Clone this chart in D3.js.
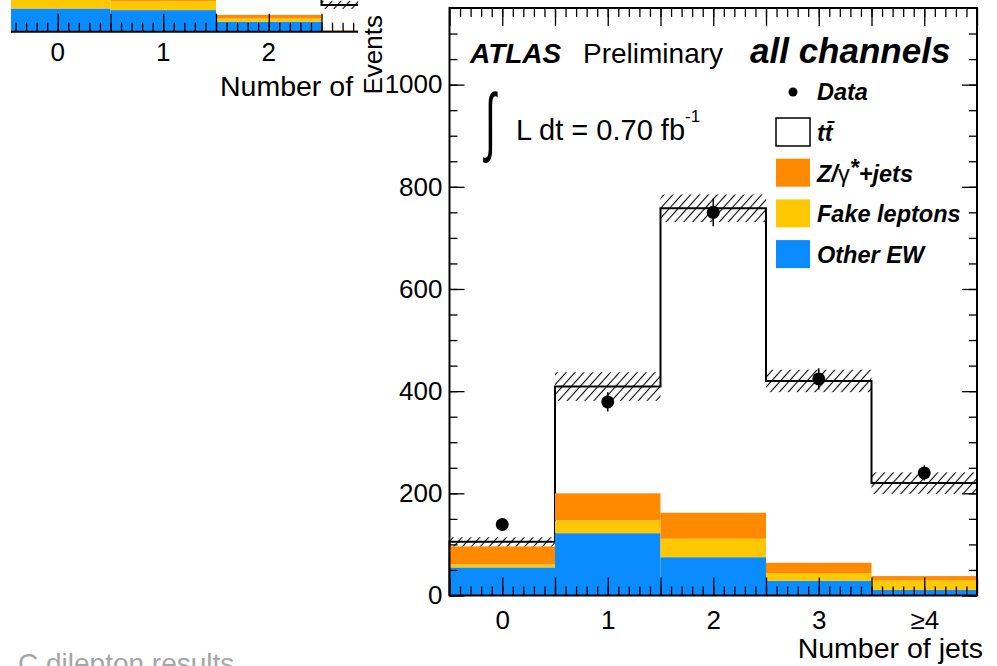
<!DOCTYPE html>
<html>
<head>
<meta charset="utf-8">
<script src="https://cdn.jsdelivr.net/npm/d3@7"></script>
<style>
  body { margin: 0; background: #fff; }
  svg { display: block; }
  text { font-family: "Liberation Sans", Arial, Helvetica, sans-serif; fill: #000; }
</style>
</head>
<body>
<svg id="chart" width="997" height="666"></svg>
<script>
// ---- main panel (all channels) ----
const jetLabels = ["0", "1", "2", "3", "\u22654"];
const otherEW = [55, 122, 75, 29, 11];
const fakeLeptons = [6, 25, 36, 14, 19];
const zJets = [35, 53, 51, 21, 8];
const ttbar = [9, 209, 596, 356, 182];
const dataEvents = [139, 379, 750, 424, 240];
const dataErrors = [12, 19, 27, 21, 15];
const mcUncert = [9, 28, 27, 22, 21];
const yTicks = [0, 200, 400, 600, 800, 1000];

// ---- partly hidden panel at top left (only its bottom is visible) ----
const leftLabels = ["0", "1", "2", "3"];
const leftOtherEW = [58, 54, 25, 1];
const leftFake = [30, 23, 8, 2];
const leftZJets = [25, 18, 9, 1];
const leftTtbar = [60, 80, 90, 63];
const leftUncert = [10, 10, 10, 10];

const colors = {other: "#0a8cff", fake: "#ffc800", z: "#ff8a00"};

const svg = d3.select("#chart");
const defs = svg.append("defs");
defs.append("pattern")
    .attr("id", "hatch")
    .attr("patternUnits", "userSpaceOnUse")
    .attr("width", 6.6).attr("height", 6.6)
    .attr("patternTransform", "rotate(42)")
  .append("line")
    .attr("x1", 3.3).attr("y1", 0).attr("x2", 3.3).attr("y2", 6.6)
    .attr("stroke", "#000").attr("stroke-width", 1.1);

function stackRows(other, fake, z) {
    return other.map((d, i) => ({bin: i, other: other[i], fake: fake[i], z: z[i]}));
}

function drawHist(g, x, y, other, fake, z, tt, unc) {
    const rows = stackRows(other, fake, z);
    const series = d3.stack().keys(["other", "fake", "z"])(rows);
    const totals = rows.map((r, i) => r.other + r.fake + r.z + tt[i]);
    const nb = rows.length;

    // ttbar on top of the stack: white fill, black step outline
    const pts = [[x(-0.5), y(0)]];
    totals.forEach((t, i) => { pts.push([x(i - 0.5), y(t)]); pts.push([x(i + 0.5), y(t)]); });
    pts.push([x(nb - 0.5), y(0)]);
    g.append("path")
        .attr("d", d3.line()(pts))
        .attr("fill", "#fff")
        .attr("stroke", "#000")
        .attr("stroke-width", 2);

    // coloured backgrounds
    g.selectAll("g.layer")
        .data(series)
        .join("g")
        .attr("class", "layer")
        .attr("fill", d => colors[d.key])
        .selectAll("rect")
        .data(d => d)
        .join("rect")
        .attr("x", (d, i) => x(i - 0.5))
        .attr("width", (d, i) => x(i + 0.5) - x(i - 0.5))
        .attr("y", d => y(d[1]))
        .attr("height", d => y(d[0]) - y(d[1]));

    // hatched uncertainty band
    g.selectAll("rect.band")
        .data(totals)
        .join("rect")
        .attr("class", "band")
        .attr("x", (d, i) => x(i - 0.5))
        .attr("width", (d, i) => x(i + 0.5) - x(i - 0.5))
        .attr("y", (d, i) => y(d + unc[i]))
        .attr("height", (d, i) => y(d - unc[i]) - y(d + unc[i]))
        .attr("fill", "url(#hatch)");
    return totals;
}

function styleTicks(sel, width) {
    sel.select(".domain").remove();
    sel.attr("font-size", null).attr("font-family", null);
    sel.selectAll(".tick line").attr("stroke", "#000").attr("stroke-width", width);
}

// ================= left (cropped) panel =================
defs.append("clipPath").attr("id", "leftClip")
  .append("rect").attr("x", 11).attr("y", 0).attr("width", 347).attr("height", 120);

const left = svg.append("g").attr("clip-path", "url(#leftClip)");
const xL = d3.scaleLinear().domain([-0.5, 4.5]).range([5, 532.5]);
const yL = d3.scaleLinear().domain([0, 250]).range([31.7, -68.3]);
drawHist(left, xL, yL, leftOtherEW, leftFake, leftZJets, leftTtbar, leftUncert);

const leftAxis = left.append("g").attr("transform", "translate(0,31.7)");
leftAxis.append("g")
    .call(d3.axisBottom(xL).tickValues(d3.range(0, 3.6, 0.5)).tickSize(-18).tickFormat(""))
    .call(g => styleTicks(g, 1.3));
leftAxis.append("g")
    .call(d3.axisBottom(xL).tickValues(d3.range(-0.4, 3.6, 0.1)).tickSize(-9).tickFormat(""))
    .call(g => styleTicks(g, 1.3));
leftAxis.append("line")
    .attr("x1", 0).attr("x2", 400).attr("y1", 0).attr("y2", 0)
    .attr("stroke", "#000").attr("stroke-width", 2);
left.selectAll("text.xlab")
    .data(leftLabels)
    .join("text")
    .attr("class", "xlab")
    .attr("x", (d, i) => xL(i))
    .attr("y", 61)
    .attr("text-anchor", "middle")
    .attr("font-size", 26)
    .text(d => d);
left.append("text")
    .attr("x", 220).attr("y", 96)
    .attr("font-size", 28.5)
    .text("Number of jets");

// slide footer text
svg.append("text")
    .attr("x", 18).attr("y", 673)
    .attr("font-family", "'Open Sans', sans-serif")
    .attr("font-size", 28)
    .style("fill", "#a6a6a6")
    .text("C dilepton results");

// ================= main panel =================
const x = d3.scaleLinear().domain([-0.5, 4.5]).range([449.5, 977]);
const y = d3.scaleLinear().domain([0, 1150]).range([595.5, 8]);
const main = svg.append("g");
const totals = drawHist(main, x, y, otherEW, fakeLeptons, zJets, ttbar, mcUncert);

// data points with error bars
const pts = main.append("g");
pts.selectAll("line")
    .data(dataEvents)
    .join("line")
    .attr("x1", (d, i) => x(i)).attr("x2", (d, i) => x(i))
    .attr("y1", (d, i) => y(d - dataErrors[i]))
    .attr("y2", (d, i) => y(d + dataErrors[i]))
    .attr("stroke", "#000").attr("stroke-width", 1.5);
pts.selectAll("circle")
    .data(dataEvents)
    .join("circle")
    .attr("cx", (d, i) => x(i))
    .attr("cy", d => y(d))
    .attr("r", 6.5)
    .attr("fill", "#000");

// axes (ROOT style: ticks inside, mirrored on top and right)
const majorX = d3.range(-0.5, 4.51, 0.5);
const minorX = d3.range(-0.4, 4.45, 0.1);
const minorY = d3.range(0, 1150, 50);

const xAxis = main.append("g").attr("transform", `translate(0,${y(0)})`);
xAxis.append("g")
    .call(d3.axisBottom(x).tickValues(minorX).tickSize(-9).tickFormat(""))
    .call(g => styleTicks(g, 1.3));
xAxis.append("g")
    .call(d3.axisBottom(x).tickValues(majorX).tickSize(-18).tickPadding(15)
        .tickFormat(d => Number.isInteger(d) ? jetLabels[d] : ""))
    .call(g => styleTicks(g, 1.3))
    .call(g => g.selectAll("text").attr("font-size", 26).style("fill", "#000"));

const topAxis = main.append("g").attr("transform", `translate(0,${y(1150)})`);
topAxis.append("g")
    .call(d3.axisTop(x).tickValues(minorX).tickSize(-9).tickFormat(""))
    .call(g => styleTicks(g, 1.3));
topAxis.append("g")
    .call(d3.axisTop(x).tickValues(majorX).tickSize(-18).tickFormat(""))
    .call(g => styleTicks(g, 1.3));

const yAxis = main.append("g").attr("transform", `translate(${x(-0.5)},0)`);
yAxis.append("g")
    .call(d3.axisLeft(y).tickValues(minorY).tickSize(-8).tickFormat(""))
    .call(g => styleTicks(g, 1.3));
yAxis.append("g")
    .call(d3.axisLeft(y).tickValues(yTicks).tickSize(-15).tickPadding(7).tickFormat(d3.format("d")))
    .call(g => styleTicks(g, 1.3))
    .call(g => g.selectAll("text").attr("font-size", 26).style("fill", "#000"));

const rAxis = main.append("g").attr("transform", `translate(${x(4.5)},0)`);
rAxis.append("g")
    .call(d3.axisRight(y).tickValues(minorY).tickSize(-8).tickFormat(""))
    .call(g => styleTicks(g, 1.3));
rAxis.append("g")
    .call(d3.axisRight(y).tickValues(yTicks).tickSize(-15).tickFormat(""))
    .call(g => styleTicks(g, 1.3));

// frame
main.append("rect")
    .attr("x", x(-0.5)).attr("y", y(1150))
    .attr("width", x(4.5) - x(-0.5)).attr("height", y(0) - y(1150))
    .attr("fill", "none").attr("stroke", "#000").attr("stroke-width", 2);

// axis titles
main.append("text")
    .attr("x", 983).attr("y", 658)
    .attr("text-anchor", "end")
    .attr("font-size", 28.5)
    .text("Number of jets");
main.append("text")
    .attr("transform", "translate(382,15) rotate(-90)")
    .attr("text-anchor", "end")
    .attr("font-size", 26)
    .text("Events");

// labels
main.append("text")
    .attr("x", 470).attr("y", 63)
    .attr("font-size", 28).attr("font-weight", "bold").attr("font-style", "italic")
    .text("ATLAS");
main.append("text")
    .attr("x", 583).attr("y", 63)
    .attr("font-size", 28)
    .text("Preliminary");
main.append("text")
    .attr("x", 750).attr("y", 63)
    .attr("font-size", 35).attr("font-weight", "bold").attr("font-style", "italic")
    .text("all channels");
main.append("text")
    .attr("transform", "translate(485,147) scale(0.7,1.35)")
    .attr("font-family", "'DejaVu Sans', sans-serif")
    .attr("font-size", 56)
    .text("\u222B");
const lumi = main.append("text")
    .attr("x", 516).attr("y", 140)
    .attr("font-size", 29);
lumi.append("tspan").text("L dt = 0.70 fb");
lumi.append("tspan").attr("dy", -18).attr("font-size", 17).text("-1");

// legend
const legend = main.append("g").attr("font-size", 23.5).attr("font-weight", "bold").attr("font-style", "italic");
legend.append("circle").attr("cx", 793).attr("cy", 92).attr("r", 4.5).attr("fill", "#000");
legend.append("text").attr("x", 817).attr("y", 100).text("Data");

const legendItems = [
    {fill: "#fff", stroke: "#000"},
    {fill: colors.z, stroke: "none"},
    {fill: colors.fake, stroke: "none"},
    {fill: colors.other, stroke: "none"}
];
legend.selectAll("rect")
    .data(legendItems)
    .join("rect")
    .attr("x", 776).attr("y", (d, i) => 118 + i * 40.7)
    .attr("width", 34).attr("height", 28)
    .attr("fill", d => d.fill)
    .attr("stroke", d => d.stroke)
    .attr("stroke-width", 1.5);

legend.append("text").attr("x", 817).attr("y", 141).text("tt\u0304");
const zt = legend.append("text").attr("x", 817).attr("y", 182);
zt.append("tspan").text("Z/");
zt.append("tspan").attr("font-weight", "normal").attr("font-style", "normal").text("\u03B3");
zt.append("tspan").attr("dy", -6).text("*");
zt.append("tspan").attr("dy", 6).text("+jets");
legend.append("text").attr("x", 817).attr("y", 222).text("Fake leptons");
legend.append("text").attr("x", 817).attr("y", 263).text("Other EW");
</script>
</body>
</html>
